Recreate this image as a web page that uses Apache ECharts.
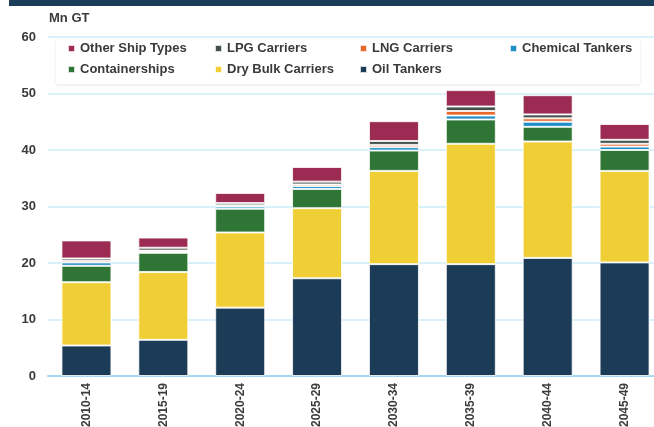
<!DOCTYPE html>
<html>
<head>
<meta charset="utf-8">
<script src="https://cdn.jsdelivr.net/npm/echarts@6/dist/echarts.min.js"></script>
<style>
  html, body { margin: 0; padding: 0; background: #ffffff; }
  #chart { width: 654px; height: 427px; }
</style>
</head>
<body>
<div id="chart"></div>
<script>
// Gross tonnage by ship type, five-year periods (Mn GT)
const periods = ['2010-14', '2015-19', '2020-24', '2025-29', '2030-34', '2035-39', '2040-44', '2045-49'];

const oilTankers       = [5.4, 6.4, 12.1, 17.3, 19.8, 19.8, 20.9, 20.1];
const dryBulkCarriers  = [11.2, 12.0, 13.3, 12.4, 16.5, 21.3, 20.6, 16.2];
const containerships   = [2.9, 3.4, 4.2, 3.4, 3.6, 4.3, 2.6, 3.7];
const chemicalTankers  = [0.6, 0.2, 0.4, 0.5, 0.6, 0.7, 0.9, 0.6];
const lngCarriers      = [0.3, 0.2, 0.2, 0.3, 0.4, 0.8, 0.6, 0.5];
const lpgCarriers      = [0.4, 0.5, 0.4, 0.5, 0.7, 0.8, 0.7, 0.7];
const otherShipTypes   = [3.2, 1.8, 1.8, 2.6, 3.5, 2.9, 3.4, 2.8];

const yTicks = [0, 10, 20, 30, 40, 50, 60];

// Stack order, bottom to top
const stackSeries = [
  { name: 'Oil Tankers',       data: oilTankers,      color: '#1b3b57' },
  { name: 'Dry Bulk Carriers', data: dryBulkCarriers, color: '#f0cf36' },
  { name: 'Containerships',    data: containerships,  color: '#2f7535' },
  { name: 'Chemical Tankers',  data: chemicalTankers, color: '#1f8ec6' },
  { name: 'LNG Carriers',      data: lngCarriers,     color: '#e8672b' },
  { name: 'LPG Carriers',      data: lpgCarriers,     color: '#46504f' },
  { name: 'Other Ship Types',  data: otherShipTypes,  color: '#9b2b53' }
];

// Legend reading order, two rows of four columns
const legendOrder = [
  'Other Ship Types', 'LPG Carriers', 'LNG Carriers', 'Chemical Tankers',
  'Containerships', 'Dry Bulk Carriers', 'Oil Tankers'
];

const FONT = '"Liberation Sans", Arial, sans-serif';
const TEXT = '#3a3a3a';

const colX = [67, 214, 359, 509];
const rowY = [42, 63];

const legends = legendOrder.map((name, i) => ({
  data: [name],
  left: colX[i % 4],
  top: rowY[Math.floor(i / 4)],
  padding: 0,
  itemWidth: 7,
  itemHeight: 7,
  itemGap: 0,
  icon: 'rect',
  z: 6,
  selectedMode: false,
  textStyle: { fontFamily: FONT, fontSize: 13, fontWeight: 'bold', color: TEXT, padding: [0, 0, 0, 0] }
}));

const chart = echarts.init(document.getElementById('chart'), null, { renderer: 'canvas' });

chart.setOption({
  animation: false,
  backgroundColor: '#ffffff',
  title: {
    text: 'Mn GT',
    left: 49,
    top: 12,
    padding: 0,
    textStyle: { fontFamily: FONT, fontSize: 13, fontWeight: 'bold', color: TEXT }
  },
  graphic: [
    {
      type: 'rect',
      left: 9, top: 0, z: 10,
      shape: { width: 645, height: 6 },
      style: { fill: '#1c3d5a' }
    },
    {
      type: 'rect',
      left: 56, top: 40, z: 3,
      shape: { width: 584, height: 44 },
      style: { fill: '#ffffff', shadowBlur: 3, shadowColor: 'rgba(0,0,0,0.10)', shadowOffsetY: 1 }
    }
  ],
  legend: legends,
  grid: { left: 48, right: -9, top: 37, bottom: 51, containLabel: false, outerBoundsMode: 'none' },
  xAxis: {
    type: 'category',
    data: periods,
    axisTick: { show: false },
    axisLine: { lineStyle: { color: '#a3daf1', width: 2 } },
    axisLabel: {
      rotate: 90,
      margin: 7,
      interval: 0,
      fontFamily: FONT, fontSize: 12, fontWeight: 'bold', color: TEXT
    }
  },
  yAxis: {
    type: 'value',
    min: yTicks[0],
    max: yTicks[yTicks.length - 1],
    interval: yTicks[1] - yTicks[0],
    axisLine: { show: false },
    axisTick: { show: false },
    axisLabel: { margin: 12, fontFamily: FONT, fontSize: 13, fontWeight: 'bold', color: TEXT },
    splitLine: { lineStyle: { color: '#cdedf9', width: 1.5 } }
  },
  series: stackSeries.map(s => ({
    name: s.name,
    type: 'bar',
    stack: 'total',
    barWidth: 50,
    data: s.data,
    itemStyle: { color: s.color, borderColor: 'rgba(255,255,255,0.8)', borderWidth: 1 },
    emphasis: { disabled: true }
  }))
});
</script>
</body>
</html>
